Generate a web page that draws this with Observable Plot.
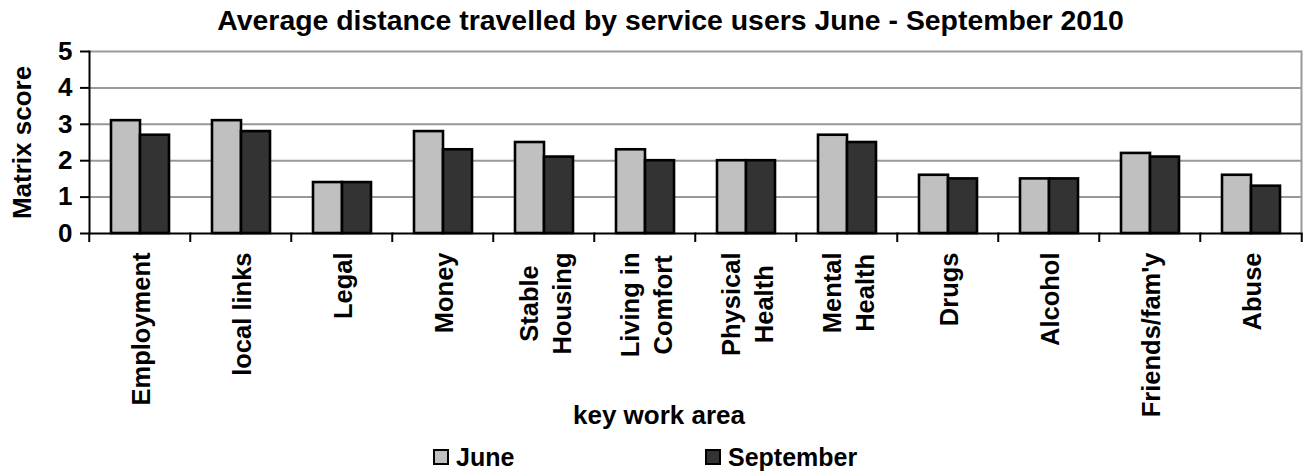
<!DOCTYPE html>
<html>
<head>
<meta charset="utf-8">
<script src="https://cdn.jsdelivr.net/npm/d3@7"></script>
<script src="https://cdn.jsdelivr.net/npm/@observablehq/plot@0.6"></script>
<style>
  html, body { margin: 0; padding: 0; background: #fff; }
  body { width: 1311px; height: 471px; overflow: hidden; position: relative;
         font-family: "Liberation Sans", Arial, sans-serif; font-weight: bold; color: #000; }
  #title { position: absolute; left: 0; top: 0; width: 1311px; height: 40px; line-height: 40px;
           text-align: center; font-size: 28.4px; padding-left: 30px; box-sizing: border-box; }
  #chart { position: absolute; left: 0; top: 40px; }
  #xlabel { position: absolute; top: 400px; left: 0; width: 1318px; text-align: center; font-size: 26px; line-height: 30px; }
  .legend-item { position: absolute; top: 443px; height: 28px; display: flex; align-items: center; font-size: 25px; }
  .swatch { width: 16px; height: 16px; box-sizing: border-box; border: 2px solid #000; margin-right: 7px; }
</style>
</head>
<body>
<div id="title">Average distance travelled by service users June - September 2010</div>
<div id="chart"></div>
<div id="xlabel">key work area</div>
<div id="legend"></div>
<script>
const categories = ["Employment", "local links", "Legal", "Money", "Stable Housing", "Living in Comfort",
  "Physical Health", "Mental Health", "Drugs", "Alcohol", "Friends/fam'y", "Abuse"];
const tickLabels = ["Employment", "local links", "Legal", "Money", "Stable\nHousing", "Living in\nComfort",
  "Physical\nHealth", "Mental\nHealth", "Drugs", "Alcohol", "Friends/fam'y", "Abuse"];
const seriesNames = ["June", "September"];
const june = [3.1, 3.1, 1.4, 2.8, 2.5, 2.3, 2.0, 2.7, 1.6, 1.5, 2.2, 1.6];
const september = [2.7, 2.8, 1.4, 2.3, 2.1, 2.0, 2.0, 2.5, 1.5, 1.5, 2.1, 1.3];
const yTicks = [0, 1, 2, 3, 4, 5];
const colors = ["#c0c0c0", "#333333"];

const data = categories.flatMap((c, i) => [
  {area: c, series: seriesNames[0], value: june[i]},
  {area: c, series: seriesNames[1], value: september[i]}
]);
const labelOf = new Map(categories.map((c, i) => [c, tickLabels[i]]));

const W = 1311, H = 390, ML = 86, MR = 7, MT = 11, MB = 197;
const step = (W - ML - MR) / categories.length;

const chart = Plot.plot({
  width: W, height: H,
  marginLeft: ML, marginRight: MR, marginTop: MT, marginBottom: MB,
  style: {fontFamily: "'Liberation Sans', Arial, sans-serif", fontWeight: "bold", fontSize: "25px",
          color: "#000", background: "transparent", overflow: "visible"},
  fx: {domain: categories, padding: 0, label: null},
  x: {domain: seriesNames, paddingInner: 0, paddingOuter: 0.72, axis: null},
  y: {domain: [0, 5], label: null},
  color: {domain: seriesNames, range: colors},
  marks: [
    Plot.gridY(yTicks.slice(1), {stroke: "#999", strokeOpacity: 1, strokeWidth: 2}),
    Plot.frame({anchor: "right", stroke: "#999", strokeWidth: 2, facetAnchor: "right"}),
    Plot.barY(data, {fx: "area", x: "series", y: "value", fill: "series", stroke: "#000", strokeWidth: 2.6, inset: 0}),
    Plot.frame({anchor: "left", stroke: "#000", strokeWidth: 2, facetAnchor: "left"}),
    Plot.frame({anchor: "bottom", stroke: "#000", strokeWidth: 2}),
    Plot.axisY({ticks: yTicks, tickSize: 9, tickPadding: 8, strokeWidth: 2, tickFormat: d => String(d),
      label: "Matrix score", labelArrow: "none", labelAnchor: "center", labelOffset: 77, fontSize: 26}),
    Plot.axisFx({anchor: "bottom", ticks: categories, tickSize: 9, tickFormat: () => "", strokeWidth: 2, dx: -step / 2, label: null}),
    Plot.axisFx({anchor: "bottom", ticks: categories.slice(-1), tickSize: 9, tickFormat: () => "", strokeWidth: 2, dx: step / 2, label: null}),
    Plot.axisFx({anchor: "bottom", ticks: categories, tickSize: 0, tickPadding: 19, tickRotate: -90, lineHeight: 1.28,
      tickFormat: d => labelOf.get(d), fontSize: 25.5, label: null})
  ]
});
document.getElementById("chart").appendChild(chart);

// center the lines of multi-line tick labels within their block (block ends at the axis side)
chart.querySelectorAll("text").forEach(function(el) {
  const tsp = Array.from(el.querySelectorAll("tspan"));
  if (tsp.length > 1) {
    const lens = tsp.map(t => t.getComputedTextLength());
    const m = Math.max(...lens);
    el.setAttribute("text-anchor", "middle");
    el.style.textAnchor = "middle";
    tsp.forEach(t => t.setAttribute("x", -m / 2));
  }
});

// legend
const legend = document.getElementById("legend");
const legendLeft = [433, 705];
seriesNames.forEach((s, i) => {
  const item = document.createElement("div");
  item.className = "legend-item";
  item.style.left = legendLeft[i] + "px";
  const sw = document.createElement("div");
  sw.className = "swatch";
  sw.style.background = colors[i];
  item.appendChild(sw);
  item.appendChild(document.createTextNode(s));
  legend.appendChild(item);
});
</script>
</body>
</html>
